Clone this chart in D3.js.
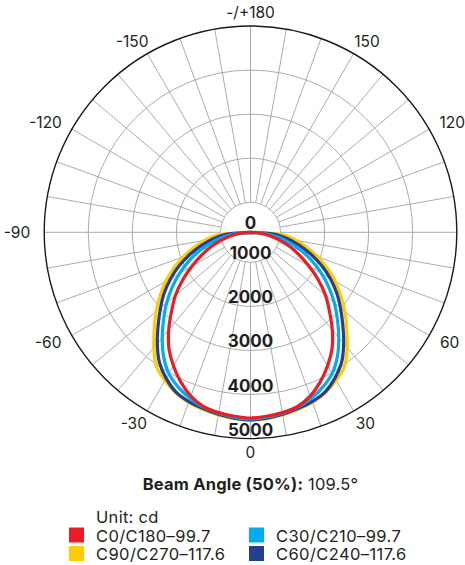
<!DOCTYPE html>
<html>
<head>
<meta charset="utf-8">
<script src="https://cdn.jsdelivr.net/npm/d3@7"></script>
<style>
  html, body { margin: 0; padding: 0; background: #fff; }
  text { font-family: Inter, "Liberation Sans", Arial, sans-serif; fill: #231f20; }
</style>
</head>
<body>
<svg id="chart" width="465" height="565"></svg>
<script>
// ---- data ----
const angles = [0, 5, 10, 15, 20, 25, 30, 35, 40, 45, 50, 55, 60, 65, 70, 75, 80, 85, 90];
const c0c180  = [4533, 4508, 4474, 4417, 4276, 4065, 3817, 3544, 3206, 2853, 2540, 2196, 1849, 1542, 1275, 1007, 657, 317, 0];
const c30c210 = [4551, 4528, 4485, 4433, 4334, 4196, 4023, 3757, 3435, 3105, 2801, 2486, 2173, 1865, 1549, 1234, 920, 493, 0];
const c90c270 = [4578, 4562, 4528, 4483, 4426, 4335, 4202, 4038, 3732, 3405, 3112, 2820, 2541, 2241, 1944, 1649, 1379, 1109, 0];
const c60c240 = [4574, 4551, 4512, 4460, 4406, 4319, 4146, 3923, 3610, 3280, 2983, 2704, 2405, 2094, 1778, 1470, 1186, 857, 0];
const seriesNames = ["C0/C180\u201399.7", "C30/C210\u201399.7", "C90/C270\u2013117.6", "C60/C240\u2013117.6"];
const seriesColors = ["#ed1c24", "#00aeef", "#ffcb05", "#243e90"];
const ringValues = [0, 1000, 2000, 3000, 4000, 5000];
const angleTicks = [-150, -120, -90, -60, -30, 0, 30, 60, 120, 150, 180];
const angleTickLabels = ["-150", "-120", "-90", "-60", "-30", "0", "30", "60", "120", "150", "-/+180"];
const beamLabel = "Beam Angle (50%):";
const beamValue = " 109.5\u00b0";
const unitLabel = "Unit: cd";

// ---- layout ----
const cx = 250.5, cy = 232.3, R = 206.3;
const svg = d3.select("#chart");
const g = svg.append("g").attr("transform", `translate(${cx},${cy})`);

const r = d3.scaleLinear().domain([0, 1000, 5000]).range([0, 30, R]);
const toRad = a => (180 - a) * Math.PI / 180; // 0 deg points down, positive to the right

// grid spokes
const spokeAngles = d3.range(-180, 180, 10);
g.selectAll("line.spoke").data(spokeAngles).enter().append("line")
  .attr("x1", a => r(1000) * Math.sin(toRad(a)))
  .attr("y1", a => -r(1000) * Math.cos(toRad(a)))
  .attr("x2", a => R * Math.sin(toRad(a)))
  .attr("y2", a => -R * Math.cos(toRad(a)))
  .attr("stroke", "#a3a3a3").attr("stroke-width", 0.9);

// grid rings
g.selectAll("circle.ring").data(ringValues.filter(v => v > 0 && v < 5000)).enter().append("circle")
  .attr("r", v => r(v)).attr("fill", "none")
  .attr("stroke", "#a3a3a3").attr("stroke-width", 0.9);
g.append("circle").attr("r", r(5000)).attr("fill", "none")
  .attr("stroke", "#1a1a1a").attr("stroke-width", 1.4);

// curves
const allSeries = [c0c180, c30c210, c90c270, c60c240];
const drawOrder = [2, 3, 1, 0];
const line = d3.lineRadial()
  .angle(d => toRad(d.a))
  .radius(d => r(d.v))
  .curve(d3.curveCatmullRom.alpha(0.5));
drawOrder.forEach(i => {
  const vals = allSeries[i];
  const pts = [];
  for (let k = angles.length - 1; k >= 1; k--) pts.push({a: -angles[k], v: vals[k]});
  for (let k = 0; k < angles.length; k++) pts.push({a: angles[k], v: vals[k]});
  g.append("path").datum(pts).attr("d", line)
    .attr("fill", "none").attr("stroke", seriesColors[i])
    .attr("stroke-width", 3.2).attr("stroke-linejoin", "round");
});

// radial labels
g.selectAll("text.rlab").data(ringValues).enter().append("text")
  .attr("x", 0).attr("y", v => r(v) - 9)
  .attr("text-anchor", "middle").attr("dominant-baseline", "central")
  .attr("font-size", 17).attr("font-weight", 700)
  .text(v => String(v));

// angle labels
const lab = g.selectAll("text.alab").data(angleTicks).enter().append("text")
  .attr("text-anchor", "middle").attr("dominant-baseline", "central")
  .attr("font-size", 15.5)
  .text((a, i) => angleTickLabels[i]);
lab.each(function(a) {
  const w = this.getComputedTextLength();
  const t = toRad(a);
  const d = R + 14;
  const s = Math.sin(t);
  d3.select(this).attr("x", d * s + (w / 2) * s).attr("y", -d * Math.cos(t));
});

// beam angle
const bt = svg.append("text").attr("x", 250.5).attr("y", 484)
  .attr("text-anchor", "middle").attr("dominant-baseline", "central")
  .attr("font-size", 16.5).attr("letter-spacing", 0.2);
bt.append("tspan").attr("font-weight", 700).text(beamLabel);
bt.append("tspan").text(beamValue);

// legend
svg.append("text").attr("x", 96).attr("y", 517).attr("dominant-baseline", "central")
  .attr("font-size", 16.5).attr("letter-spacing", 0.3).text(unitLabel);
const legendPos = [[69, 527.5], [249, 527.5], [69, 546], [249, 546]];
seriesNames.forEach((name, i) => {
  const [x, y] = legendPos[i];
  svg.append("rect").attr("x", x).attr("y", y).attr("width", 15).attr("height", 15)
    .attr("fill", seriesColors[i]);
  svg.append("text").attr("x", x + 27).attr("y", y + 8).attr("dominant-baseline", "central")
    .attr("font-size", 16.5).attr("letter-spacing", 0.4).text(name);
});
</script>
</body>
</html>
